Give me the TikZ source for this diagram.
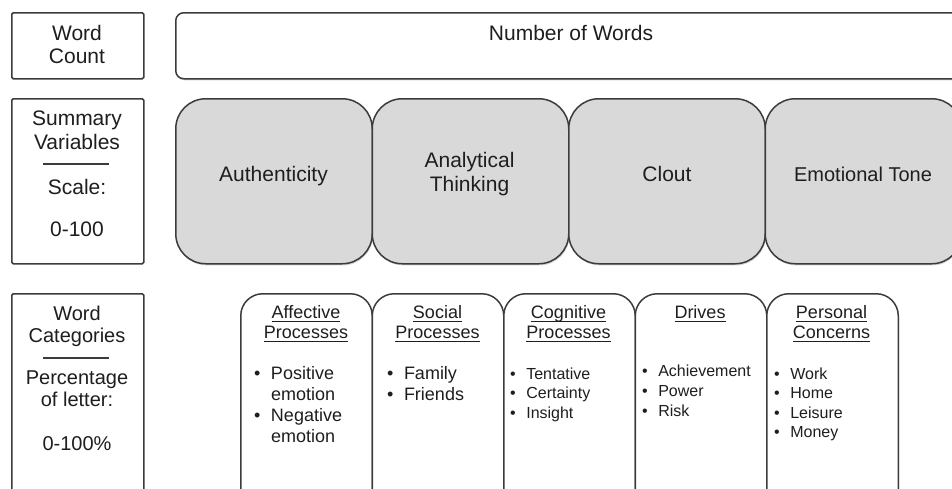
\documentclass[tikz,border=0pt]{standalone}
\usepackage{fontspec}
\setmainfont{Liberation Sans}
\usetikzlibrary{shadows}
\definecolor{lc}{RGB}{60,60,60}
\definecolor{boxgray}{RGB}{217,217,217}
\definecolor{txt}{RGB}{30,30,30}
\newcommand\mystack[3]{{\fontsize{#1}{#2}\selectfont\begin{tabular}[t]{@{}c@{}}#3\end{tabular}}}
\newcommand\mylist[3]{{\fontsize{#1}{#2}\selectfont\begin{tabular}[t]{@{}l@{\hspace{10.5pt}}l@{}}#3\end{tabular}}}
\newcommand\myul[1]{\setbox0\hbox{#1}\rlap{\rule[-4pt]{\wd0}{1.1pt}}\box0}
\newcommand\bu{\textbullet}
\begin{document}
\begin{tikzpicture}[x=1pt,y=-1pt,
  shad/.style={drop shadow={shadow xshift=0.8pt,shadow yshift=-1.6pt,opacity=0.35}},
  lbl/.style={draw=lc,line width=1.5pt,fill=white,rounded corners=1.5pt,anchor=north west,inner sep=0},
  nbox/.style={draw=lc,line width=1.5pt,fill=white,rounded corners=8pt,anchor=north west,inner sep=0,shad},
  sbox/.style={draw=lc,line width=1.5pt,fill=boxgray,rounded corners=30pt,anchor=north west,inner sep=0,shad,minimum width=196.5pt,minimum height=165pt},
  cbox/.style={draw=lc,line width=1.5pt,fill=white,rounded corners=22pt,anchor=north west,inner sep=0,shad,minimum width=131.5pt,minimum height=230pt},
  t/.style={inner sep=0,anchor=base,text=txt},
  tl/.style={inner sep=0,anchor=base west,text=txt},
  rulel/.style={draw=lc,line width=1.3pt}]
\clip (0,0) rectangle (952,488);
\fill[white] (0,0) rectangle (952,488);
% left column
\node[lbl,minimum width=132pt,minimum height=66pt] (wc) at (11,12) {};
\node[lbl,minimum width=132pt,minimum height=165pt] (sv) at (11,98) {};
\node[lbl,minimum width=132pt,minimum height=230pt] (wcat) at (11,293) {};
\node[t] (wct) at (77,40) {\mystack{21}{23}{Word\\Count}};
\node[t] (svt) at (77,125) {\mystack{21}{24}{Summary\\Variables}};
\draw[rulel] (43,164) -- (109,164);
\node[t] (sct) at (77,194) {\fontsize{21}{23}\selectfont Scale:};
\node[t] (svr) at (77,236) {\fontsize{21}{23}\selectfont 0-100};
\node[t] (wcatt) at (77,320) {\mystack{20}{22}{Word\\Categories}};
\draw[rulel] (43,358) -- (109,358);
\node[t] (pct) at (77,384) {\mystack{20}{22.5}{Percentage\\of letter:}};
\node[t] (pcr) at (77,450) {\fontsize{20}{22}\selectfont 0-100\%};
% top bar
\node[nbox,minimum width=792pt,minimum height=66pt] (nw) at (175,12) {};
\node[t] (nwt) at (571,40.5) {\fontsize{21}{23}\selectfont Number of Words};
% summary variables
\node[sbox] (auth) at (175,98) {};
\node[sbox] (anal) at (371.5,98) {};
\node[sbox] (clout) at (568,98) {};
\node[sbox] (tone) at (764.5,98) {};
\node[t] (autht) at (273.5,181.5) {\fontsize{21}{23}\selectfont Authenticity};
\node[t] (analt) at (469.5,167.5) {\mystack{21}{23.5}{Analytical\\Thinking}};
\node[t] (cloutt) at (667,181) {\fontsize{21}{23}\selectfont Clout};
\node[t] (tonet) at (863,181) {\fontsize{20}{22}\selectfont Emotional Tone};
% word categories
\node[cbox] (aff) at (240,293) {};
\node[cbox] (soc) at (371.5,293) {};
\node[cbox] (cog) at (503,293) {};
\node[cbox] (drv) at (634.5,293) {};
\node[cbox] (pers) at (766,293) {};
\node[t] (afft) at (306,318.3) {\mystack{18}{20}{\myul{Affective}\\\myul{Processes}}};
\node[t] (soct) at (437.5,318.3) {\mystack{18}{20}{\myul{Social}\\\myul{Processes}}};
\node[t] (cogt) at (568.5,318.3) {\mystack{18}{20}{\myul{Cognitive}\\\myul{Processes}}};
\node[t] (drvt) at (700,318.3) {\mystack{18}{20}{\myul{Drives}}};
\node[t] (perst) at (831.5,318.3) {\mystack{18}{20}{\myul{Personal}\\\myul{Concerns}}};
\node[tl] (affl) at (254,379.3) {\mylist{18}{21.2}{\bu & Positive\\ & emotion\\ \bu & Negative\\ & emotion}};
\node[tl] (socl) at (387,379.3) {\mylist{18}{21.2}{\bu & Family\\ \bu & Friends}};
\node[tl] (cogl) at (510,379.3) {\mylist{16}{19.4}{\bu & Tentative\\ \bu & Certainty\\ \bu & Insight}};
\node[tl] (drvl) at (642,376) {\mylist{16}{20.3}{\bu & Achievement\\ \bu & Power\\ \bu & Risk}};
\node[tl] (persl) at (774,379.3) {\mylist{16}{19.5}{\bu & Work\\ \bu & Home\\ \bu & Leisure\\ \bu & Money}};
\end{tikzpicture}
\end{document}
